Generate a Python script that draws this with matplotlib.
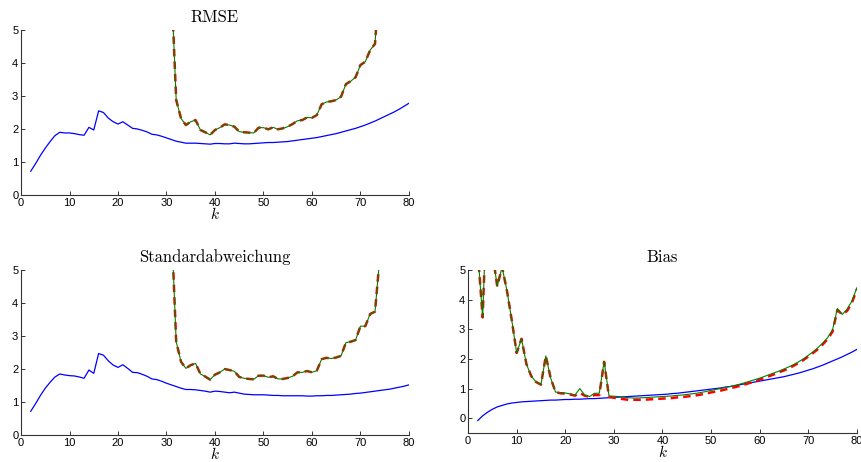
import numpy as np
import matplotlib
matplotlib.use("Agg")
import matplotlib.pyplot as plt

plt.rcParams['mathtext.fontset'] = 'cm'

k_all = np.arange(2, 81)

# RMSE panel
rmse_blue = [0.72, 0.95, 1.2, 1.42, 1.62, 1.8, 1.9, 1.88, 1.88, 1.86, 1.83, 1.81, 2.05, 1.97, 2.55,
             2.5, 2.33, 2.22, 2.15, 2.22, 2.12, 2.02, 2.0, 1.96, 1.91, 1.84, 1.82, 1.78, 1.73, 1.68,
             1.63, 1.6, 1.57, 1.57, 1.57, 1.56, 1.55, 1.54, 1.56, 1.56, 1.55, 1.55, 1.57, 1.56, 1.55,
             1.55, 1.56, 1.57, 1.58, 1.59, 1.59, 1.6, 1.61, 1.62, 1.64, 1.66, 1.68, 1.7, 1.72,
             1.74, 1.77, 1.8, 1.83, 1.86, 1.9, 1.94, 1.98, 2.02, 2.07, 2.12, 2.18, 2.24, 2.31,
             2.38, 2.45, 2.52, 2.6, 2.69, 2.78]
k_rmse = np.arange(31, 75)
rmse_red = [6.4, 2.88, 2.32, 2.12, 2.22, 2.27, 1.97, 1.9, 1.82, 1.97, 2.04, 2.14, 2.12, 2.07, 1.92,
            1.9, 1.89, 1.88, 2.04, 2.04, 1.99, 2.05, 1.99, 2.02, 2.07, 2.15, 2.25, 2.27, 2.35, 2.34,
            2.42, 2.75, 2.82, 2.84, 2.88, 2.98, 3.36, 3.45, 3.57, 3.94, 4.04, 4.39, 4.58, 6.7]
rmse_green = [6.4, 2.88, 2.32, 2.12, 2.22, 2.27, 1.97, 1.9, 1.82, 1.97, 2.04, 2.14, 2.12, 2.07, 1.92,
              1.9, 1.89, 1.88, 2.04, 2.04, 1.99, 2.05, 1.99, 2.02, 2.07, 2.15, 2.25, 2.27, 2.35, 2.34,
              2.42, 2.75, 2.82, 2.84, 2.88, 2.98, 3.36, 3.45, 3.57, 3.94, 4.04, 4.39, 4.58, 6.7]

# Standardabweichung panel
std_blue = [0.72, 0.95, 1.2, 1.42, 1.6, 1.76, 1.85, 1.82, 1.8, 1.79, 1.76, 1.72, 1.97, 1.87, 2.47,
            2.42, 2.25, 2.12, 2.05, 2.13, 2.02, 1.9, 1.89, 1.84, 1.78, 1.7, 1.68, 1.63, 1.57, 1.52,
            1.47, 1.42, 1.38, 1.38, 1.37, 1.35, 1.33, 1.3, 1.33, 1.32, 1.3, 1.28, 1.3, 1.27, 1.24,
            1.23, 1.22, 1.22, 1.22, 1.21, 1.2, 1.2, 1.19, 1.19, 1.19, 1.19, 1.19, 1.18, 1.18,
            1.19, 1.19, 1.2, 1.2, 1.21, 1.22, 1.23, 1.24, 1.26, 1.27, 1.29, 1.31, 1.33, 1.35,
            1.37, 1.39, 1.42, 1.45, 1.48, 1.52]
k_std = np.arange(31, 76)
std_red = [6.45, 2.83, 2.22, 2.02, 2.12, 2.17, 1.85, 1.77, 1.68, 1.83, 1.9, 2.0, 1.97, 1.93, 1.76,
           1.72, 1.7, 1.69, 1.8, 1.8, 1.75, 1.78, 1.7, 1.7, 1.73, 1.78, 1.9, 1.9, 1.94, 1.9,
           1.95, 2.3, 2.34, 2.32, 2.35, 2.4, 2.8, 2.83, 2.88, 3.3, 3.3, 3.67, 3.74, 5.4, 8.0]
std_green = [6.45, 2.83, 2.22, 2.02, 2.12, 2.17, 1.85, 1.77, 1.68, 1.83, 1.9, 2.0, 1.97, 1.93, 1.76,
             1.72, 1.7, 1.69, 1.8, 1.8, 1.75, 1.78, 1.7, 1.7, 1.73, 1.78, 1.9, 1.9, 1.94, 1.9,
             1.95, 2.3, 2.34, 2.32, 2.35, 2.4, 2.8, 2.83, 2.88, 3.3, 3.3, 3.67, 3.74, 5.4, 8.0]

# Bias panel
bias_blue = [-0.08, 0.08, 0.2, 0.3, 0.38, 0.43, 0.48, 0.51, 0.53, 0.55, 0.56, 0.57, 0.58, 0.59, 0.6,
             0.61, 0.61, 0.62, 0.63, 0.63, 0.64, 0.64, 0.65, 0.66, 0.66, 0.67, 0.68, 0.69, 0.7,
             0.71, 0.72, 0.73, 0.74, 0.75, 0.76, 0.77, 0.78, 0.79, 0.8, 0.81, 0.83, 0.84, 0.86,
             0.88, 0.9, 0.92, 0.94, 0.96, 0.98, 1.0, 1.02, 1.05, 1.07, 1.1, 1.13, 1.16, 1.19,
             1.22, 1.25, 1.28, 1.31, 1.34, 1.37, 1.4, 1.44, 1.48, 1.52, 1.57, 1.62, 1.67, 1.73,
             1.79, 1.86, 1.93, 2.0, 2.07, 2.15, 2.23, 2.32]
bias_green = [5.6, 3.4, 8.0, 5.6, 4.45, 5.1, 4.3, 3.3, 2.2, 2.68, 1.83, 1.42, 1.22, 1.13, 2.1,
              1.35, 0.88, 0.86, 0.85, 0.82, 0.78, 1.0, 0.78, 0.73, 0.84, 0.84, 1.92, 0.75, 0.74,
              0.73, 0.71, 0.69, 0.68, 0.68, 0.69, 0.7, 0.71, 0.72, 0.73, 0.74, 0.75, 0.77, 0.78,
              0.8, 0.82, 0.84, 0.87, 0.9, 0.94, 0.97, 1.0, 1.04, 1.07, 1.11, 1.15, 1.2, 1.25,
              1.3, 1.35, 1.41, 1.47, 1.53, 1.59, 1.66, 1.73, 1.81, 1.9, 2.0, 2.12, 2.24, 2.38,
              2.54, 2.72, 2.98, 3.7, 3.5, 3.68, 3.95, 4.4]
bias_red = [5.6, 3.4, 8.0, 5.6, 4.45, 5.1, 4.3, 3.3, 2.2, 2.68, 1.83, 1.42, 1.22, 1.13, 2.1,
            1.35, 0.88, 0.84, 0.83, 0.8, 0.76, 0.85, 0.76, 0.72, 0.78, 0.78, 1.9, 0.72, 0.69,
            0.67, 0.64, 0.62, 0.62, 0.62, 0.62, 0.63, 0.64, 0.65, 0.66, 0.67, 0.68, 0.7, 0.71,
            0.73, 0.75, 0.77, 0.8, 0.83, 0.87, 0.9, 0.93, 0.97, 1.01, 1.05, 1.09, 1.14, 1.19,
            1.24, 1.3, 1.36, 1.42, 1.48, 1.55, 1.61, 1.68, 1.77, 1.86, 1.96, 2.08, 2.2, 2.33,
            2.49, 2.67, 2.92, 3.65, 3.5, 3.62, 3.9, 4.35]

xticks = [0, 10, 20, 30, 40, 50, 60, 70, 80]
yticks = [0, 1, 2, 3, 4, 5]

fig = plt.figure(figsize=(8.62, 4.62), dpi=100)
ax1 = fig.add_axes([0.0244, 0.578, 0.450, 0.357])
ax2 = fig.add_axes([0.0244, 0.0584, 0.450, 0.357])
ax3 = fig.add_axes([0.543, 0.0628, 0.451, 0.3528])

panels = [
    (ax1, "RMSE", rmse_blue, k_rmse, rmse_red, rmse_green, 0),
    (ax2, "Standardabweichung", std_blue, k_std, std_red, std_green, 0),
    (ax3, "Bias", bias_blue, k_all, bias_red, bias_green, -0.5),
]

for ax, title, blue, kk, red, green, ymin in panels:
    ax.plot(k_all, blue, color="#0000ff", lw=0.9)
    ax.plot(kk, red, color="#ff0000", lw=1.8, linestyle=(0, (3, 2)))
    ax.plot(kk, green, color="#008000", lw=0.8)
    ax.set_xlim(0, 80)
    ax.set_ylim(ymin, 5)
    ax.set_xticks(xticks)
    ax.set_yticks(yticks)
    for side in ["top", "right"]:
        ax.spines[side].set_visible(False)
    for side in ["left", "bottom"]:
        ax.spines[side].set_linewidth(0.8)
        ax.spines[side].set_color("#333333")
    ax.tick_params(direction="in", length=3, width=0.7, pad=2, colors="#333333")
    for lab in ax.get_xticklabels() + ax.get_yticklabels():
        lab.set_fontfamily("Liberation Sans")
        lab.set_fontsize(8)
        lab.set_color("black")
    ax.set_title(title, fontfamily="cmr10", fontsize=12, pad=6)
    ax.set_xlabel("$k$", fontsize=11, labelpad=-1)

fig.savefig("out.png", dpi=100)
